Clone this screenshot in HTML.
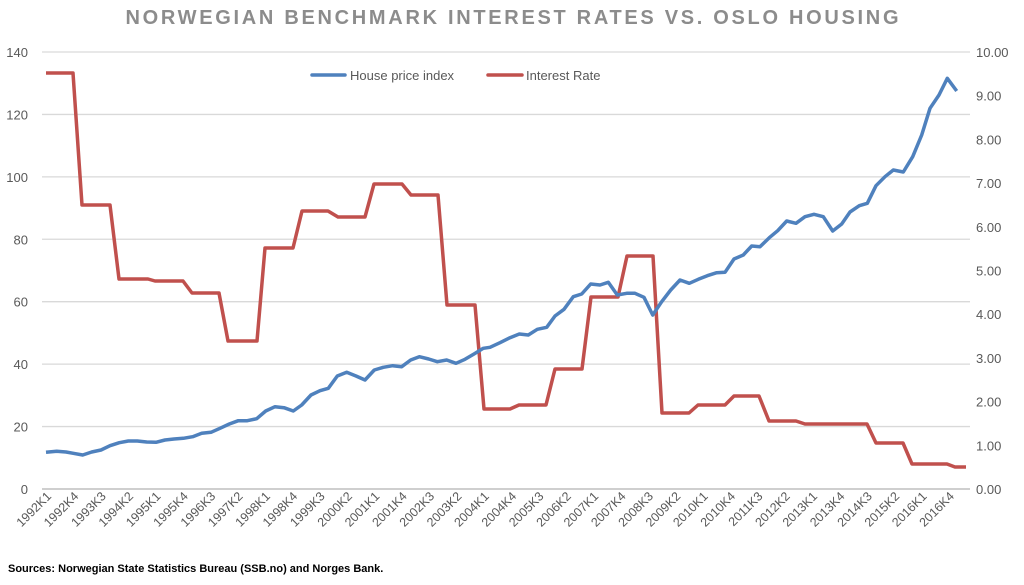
<!DOCTYPE html>
<html><head><meta charset="utf-8"><style>
body{margin:0;background:#fff;}
svg{display:block;font-family:"Liberation Sans",sans-serif;}
</style></head><body>
<svg id="s" width="1024" height="585" viewBox="0 0 1024 585" xmlns="http://www.w3.org/2000/svg">
<rect width="1024" height="585" fill="#fff"/>
<text x="512" y="24" text-anchor="middle" font-size="20" font-weight="bold" fill="#8c8c8c" textLength="773" lengthAdjust="spacing">NORWEGIAN BENCHMARK INTEREST RATES VS. OSLO HOUSING</text>
<g id="grid" stroke="#d9d9d9" stroke-width="1.3"></g>
<line x1="42" y1="489" x2="970" y2="489" stroke="#bfbfbf" stroke-width="1.5"/>
<g id="ly" font-size="13" fill="#595959" text-anchor="end"></g>
<g id="ry" font-size="13" fill="#595959"></g>
<g id="xl" font-size="12.5" fill="#595959" text-anchor="end"></g>
<polyline id="red" fill="none" stroke="#c0504d" stroke-width="3.5" stroke-linejoin="round"/>
<polyline id="blue" fill="none" stroke="#4f81bd" stroke-width="3.5" stroke-linejoin="round"/>
<line x1="312" y1="75" x2="345" y2="75" stroke="#4f81bd" stroke-width="3.5" stroke-linecap="round"/>
<text x="350" y="80" font-size="13" fill="#595959">House price index</text>
<line x1="488" y1="75" x2="522" y2="75" stroke="#c0504d" stroke-width="3.5" stroke-linecap="round"/>
<text x="526" y="80" font-size="13" fill="#595959">Interest Rate</text>
<text x="8" y="572" font-size="11" font-weight="bold" fill="#000">Sources: Norwegian State Statistics Bureau (SSB.no) and Norges Bank.</text>
</svg>
<script>
var NS="http://www.w3.org/2000/svg";
function el(p,t,a,txt){var e=document.createElementNS(NS,t);for(var k in a)e.setAttribute(k,a[k]);if(txt!=null)e.textContent=txt;document.getElementById(p).appendChild(e);return e;}
for(var i=1;i<=7;i++){var y=489-i*62.43;el("grid","line",{x1:42,x2:970,y1:y,y2:y});}
for(var i=0;i<=7;i++){el("ly","text",{x:28,y:489-i*62.43+5},String(i*20));}
for(var i=0;i<=10;i++){el("ry","text",{x:976,y:489-i*43.7+5},(i).toFixed(2));}
for(var i=0;i<=99;i+=3){var x=46+i*9.12;var yr=1992+Math.floor(i/4),q=i%4+1;
 el("xl","text",{x:x+6,y:497,transform:"rotate(-45 "+(x+6)+" 497)"},yr+"K"+q);}
var r=[[46,73],[73,73],[82,205],[110,205],[119,279],[148,279],[155,281],[183,281],[192,293],[219,293],[228,341],[257,341],[265,248],[293,248],[302,211],[328,211],[338,217],[365,217],[374,184],[402,184],[411,195],[438,195],[447,305],[475,305],[484,409],[510,409],[519,405],[546,405],[555,369],[582,369],[591,297],[618,297],[627,256],[653,256],[662,413],[689,413],[698,405],[725,405],[734,396],[759,396],[769,421],[796,421],[805,424],[867,424],[876,443],[903,443],[912,464],[947,464],[955,467],[966,467]];
document.getElementById("red").setAttribute("points",r.map(function(p){return p.join(",")}).join(" "));
var b3=[[48,1237],[80,1234],[108,1236],[130,1240],[158,1245],[185,1236],[213,1230],[240,1217],[268,1208],[295,1203],[322,1203],[350,1206],[378,1207],[405,1200],[432,1197],[460,1195],[488,1190],[515,1180],[543,1177],[570,1165],[598,1152],[625,1142],[652,1142],[680,1136],[707,1113],[735,1100],[762,1103],[790,1113],[815,1095],[843,1065],[870,1052],[895,1045],[922,1008],[950,997],[978,1008],[1005,1020],[1033,990],[1060,982],[1088,977],[1115,980],[1142,960],[1168,950],[1196,957],[1222,965],[1250,960],[1278,970],[1305,958],[1332,942],[1360,925],[1388,925],[1415,910]];
var b4=[[0,922],[30,908],[60,893],[88,882],[115,885],[142,868],[170,862],[195,828],[222,808],[250,770],[275,762],[302,732],[330,735],[355,727],[382,765],[410,760],[435,760],[462,772],[488,825],[515,785],[542,750],[570,720],[598,730],[625,718],[652,707],[680,698],[705,697],[732,657],[760,645],[785,618],[810,620],[838,593],[863,572],[890,543],[918,550],[945,530],[972,523],[1000,530],[1028,573],[1055,552],[1080,516],[1108,497],[1132,490],[1158,437],[1185,410],[1210,390],[1240,396],[1268,350],[1295,285],[1320,205],[1347,165],[1372,115],[1400,153]];
var pts=[];
b3.forEach(function(p){var x=30+p[0]/3;if(x<489)pts.push((x).toFixed(1)+","+(40+p[1]/3).toFixed(1));});
b4.forEach(function(p){var x=490+p[0]/3;pts.push((x).toFixed(1)+","+(40+p[1]/3).toFixed(1));});
document.getElementById("blue").setAttribute("points",pts.join(" "));
</script>
</body></html>
